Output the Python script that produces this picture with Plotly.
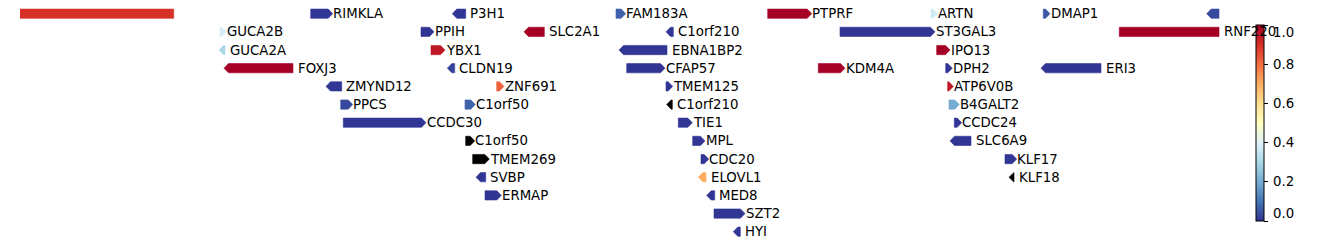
import plotly.graph_objects as go
from plotly.colors import sample_colorscale

# ---- data (x in track units, left edge of the view = 0) ----
genes = ["", "RIMKLA", "P3H1", "FAM183A", "PTPRF", "ARTN", "DMAP1", "",
         "GUCA2B", "PPIH", "SLC2A1", "C1orf210", "ST3GAL3", "RNF220",
         "GUCA2A", "YBX1", "EBNA1BP2", "IPO13",
         "FOXJ3", "CLDN19", "CFAP57", "KDM4A", "DPH2", "ERI3",
         "ZMYND12", "ZNF691", "TMEM125", "ATP6V0B",
         "PPCS", "C1orf50", "C1orf210", "B4GALT2",
         "CCDC30", "TIE1", "CCDC24",
         "C1orf50", "MPL", "SLC6A9",
         "TMEM269", "CDC20", "KLF17",
         "SVBP", "ELOVL1", "KLF18",
         "ERMAP", "MED8",
         "SZT2",
         "HYI"]
starts = [0.0, 290.7, 432.3, 596.0, 747.7, 911.0, 1023.3, 1186.7,
          200.0, 401.0, 504.0, 646.0, 820.0, 1099.3,
          199.0, 411.0, 599.0, 916.7,
          204.0, 427.3, 606.7, 798.3, 925.7, 1021.0,
          306.0, 476.7, 646.0, 927.7,
          320.7, 445.0, 646.7, 929.0,
          323.3, 658.3, 934.3,
          445.7, 672.7, 930.0,
          452.7, 681.0, 985.0,
          456.0, 678.3, 989.0,
          465.0, 686.7,
          694.0,
          713.3]
ends = [153.7, 312.7, 445.7, 605.7, 791.7, 917.3, 1030.0, 1199.0,
        206.0, 414.0, 524.3, 653.3, 915.0, 1199.0,
        205.0, 425.0, 647.0, 930.0,
        273.0, 434.7, 645.0, 825.0, 932.3, 1081.0,
        321.7, 484.0, 652.7, 933.3,
        332.7, 455.3, 652.3, 939.3,
        406.0, 672.3, 941.7,
        454.7, 685.0, 951.0,
        469.3, 688.7, 996.7,
        465.7, 686.0, 994.0,
        481.3, 694.7,
        725.0,
        720.3]
strands = [".", "+", "-", "+", "+", "+", "+", "-",
           "+", "+", "-", "-", "+", ".",
           "-", "+", "-", "+",
           "-", "-", "+", "+", "+", "-",
           "-", "+", "+", "+",
           "+", "+", "-", "+",
           "+", "+", "+",
           "+", "+", "-",
           "+", "+", "+",
           "-", "-", "-",
           "+", "-",
           "+",
           "-"]
rows = [0, 0, 0, 0, 0, 0, 0, 0,
        1, 1, 1, 1, 1, 1,
        2, 2, 2, 2,
        3, 3, 3, 3, 3, 3,
        4, 4, 4, 4,
        5, 5, 5, 5,
        6, 6, 6,
        7, 7, 7,
        8, 8, 8,
        9, 9, 9,
        10, 10,
        11,
        12]
scores = [0.9, 0.0, 0.0, 0.07, 1.0, 0.37, 0.05, 0.03,
          0.38, 0.0, 1.0, 0.0, 0.0, 1.0,
          0.3, 0.95, 0.0, 1.0,
          1.0, 0.02, 0.0, 1.0, 0.0, 0.0,
          0.0, 0.82, 0.0, 0.95,
          0.03, 0.07, None, 0.2,
          0.0, 0.0, 0.0,
          None, 0.0, 0.0,
          None, 0.0, 0.0,
          0.0, 0.7, None,
          0.0, 0.0,
          0.0,
          0.0]
cbar_ticks = [0.0, 0.2, 0.4, 0.6, 0.8, 1.0]
cbar_labels = ["0.0", "0.2", "0.4", "0.6", "0.8", "1.0"]

# ---- style ----
FONT = "DejaVu Sans"
FS = 13.3
HALF_H = 0.255     # half arrow height (rows)
HEAD = 4.5         # arrow head length (x units)
scale = [[0.0, "#313695"], [0.1, "#4575b4"], [0.2, "#74add1"], [0.3, "#abd9e9"],
         [0.4, "#e0f3f8"], [0.5, "#ffffbf"], [0.6, "#fee090"], [0.7, "#fdae61"],
         [0.8, "#f46d43"], [0.9, "#d73027"], [1.0, "#a50026"]]

W, H = 1338, 246
ML, MR = 20, 118
CB_LEFT, CB_TOP, CB_BOT = 1255.5, 25, 221
CB_LABEL_X = 1273

fig = go.Figure()
annotations = []
for name, s, e, st, r, v in zip(genes, starts, ends, strands, rows, scores):
    y = -r
    col = "black" if v is None else sample_colorscale(scale, [v])[0]
    hl = min(HEAD, e - s)
    if st == "+":
        xs = [s, e - hl, e, e - hl, s, s]
        ys = [y - HALF_H, y - HALF_H, y, y + HALF_H, y + HALF_H, y - HALF_H]
    elif st == "-":
        xs = [e, s + hl, s, s + hl, e, e]
        ys = [y - HALF_H, y - HALF_H, y, y + HALF_H, y + HALF_H, y - HALF_H]
    else:
        xs = [s, e, e, s, s]
        ys = [y - HALF_H, y - HALF_H, y + HALF_H, y + HALF_H, y - HALF_H]
    fig.add_trace(go.Scatter(x=xs, y=ys, mode="lines", fill="toself",
                             fillcolor=col, line=dict(width=0.6, color=col),
                             hoverinfo="skip", showlegend=False))
    if name:
        annotations.append(dict(x=e, y=y, xref="x", yref="y", text=name,
                                showarrow=False, xanchor="left", yanchor="middle",
                                xshift=(-1.5 if st == "+" else 2.5),
                                font=dict(family=FONT, size=FS, color="black")))

# colorbar holder
fig.add_trace(go.Scatter(
    x=[None], y=[None], mode="markers", showlegend=False, hoverinfo="skip",
    marker=dict(color=[0.0], cmin=0, cmax=1, colorscale=scale, showscale=True,
                colorbar=dict(
                    x=(CB_LEFT - ML) / (W - ML - MR), xanchor="left", xpad=0, ypad=0,
                    y=1 - (CB_TOP + CB_BOT) / 2 / H, yanchor="middle",
                    lenmode="pixels", len=CB_BOT - CB_TOP, thickness=8,
                    outlinewidth=1, outlinecolor="black",
                    ticks="outside", ticklen=3.5, tickwidth=1, tickcolor="black",
                    tickvals=cbar_ticks, ticktext=[""] * len(cbar_ticks),
                    tickfont=dict(family=FONT, size=FS, color="black")))))

# colorbar tick labels (ends aligned inward, as in the reference)
lx = (CB_LABEL_X - 2 - ML) / (W - ML - MR)
for t, lab in zip(cbar_ticks, cbar_labels):
    pix = CB_BOT - (CB_BOT - CB_TOP) * t
    if t == cbar_ticks[-1]:
        ya, ys_ = "top", 2
    elif t == cbar_ticks[0]:
        ya, ys_ = "bottom", -2
    else:
        ya, ys_ = "middle", 0
    annotations.append(dict(x=lx, y=1 - pix / H, xref="paper", yref="paper",
                            text=lab, showarrow=False, xanchor="left", yanchor=ya,
                            yshift=ys_,
                            font=dict(family=FONT, size=FS, color="black")))

row_px = 18.17
top = 13.7 / row_px
fig.update_layout(
    width=W, height=H,
    margin=dict(l=ML, r=MR, t=0, b=0),
    paper_bgcolor="white", plot_bgcolor="white",
    xaxis=dict(range=[0, W - ML - MR], visible=False, fixedrange=True),
    yaxis=dict(range=[top - H / row_px, top], visible=False, fixedrange=True),
    annotations=annotations,
    showlegend=False,
)
fig.write_html("out.html")
